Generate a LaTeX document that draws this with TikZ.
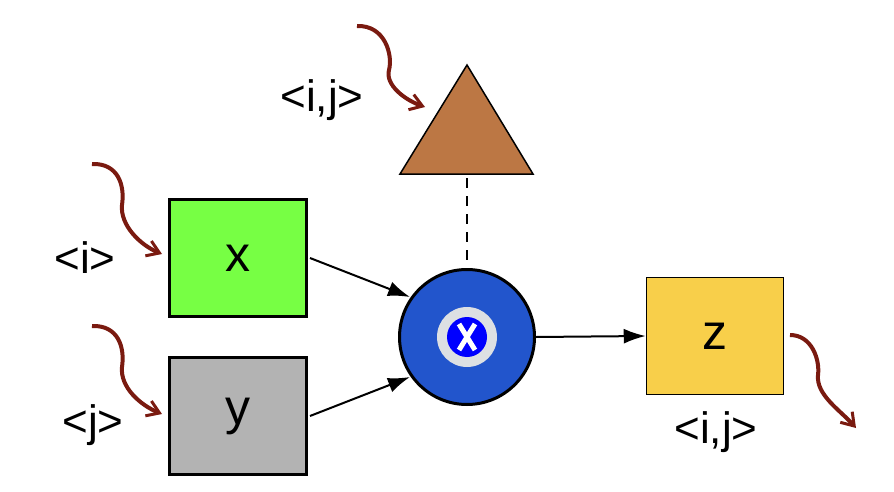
\documentclass[tikz,border=0pt]{standalone}
\usepackage{fontspec}
\setmainfont{Liberation Sans}
\usetikzlibrary{arrows.meta}
\definecolor{sq}{HTML}{7A1A10}
\definecolor{cx}{RGB}{119,255,68}
\definecolor{cy}{RGB}{179,179,179}
\definecolor{cz}{RGB}{248,207,74}
\definecolor{cm}{RGB}{34,85,204}
\definecolor{cg}{RGB}{221,224,227}
\definecolor{ct}{RGB}{188,119,68}
\begin{document}
\begin{tikzpicture}[x=1pt,y=-1pt,
  box/.style={draw=black,line width=3pt,minimum width=137pt,minimum height=117pt,inner sep=0pt,font=\fontsize{50}{50}\selectfont},
  lab/.style={font=\fontsize{44}{44}\selectfont,inner sep=0pt},
  squig/.style={draw=sq,line width=4pt,-{Straight Barb[length=12pt,width=16pt,line width=3pt]}},
  arr/.style={line width=2pt,-{Latex[length=22pt,width=15pt]}}]
\useasboundingbox (0,0) rectangle (894,492);
\node[box,fill=cx] (x) at (238,258) {x};
\node[box,fill=cy] (y) at (238,416) {y};
\node[box,line width=1.5pt,fill=cz] (z) at (715,336) {z};
\node[circle,draw,line width=3pt,fill=cm,minimum size=135pt,inner sep=0pt] (m) at (467,337) {};
\fill[cg] (m.center) circle (30);
\fill[blue] (m.center) circle (20);
\draw[white,line width=5pt] (459,324) -- (475,350) (475,324) -- (459,350);
\filldraw[fill=ct,draw=black,line width=1.5pt] (467,65) -- (533,174) -- (400,174) -- cycle;
\coordinate (tb) at (467,178);
\draw[line width=2pt,dash pattern=on 10pt off 8pt] (tb) -- (m.north);
\draw[arr] (x.east) ++(2,0) -- (410,297);
\draw[arr] (y.east) ++(2,0) -- (410,377);
\draw[arr] (m.east) -- (z.west);
\node[lab] (l1) at (322,100) {<i,j>};
\node[lab] (l2) at (85,258) {<i>};
\node[lab] (l3) at (93,425) {<j>};
\node[lab] (l4) at (716,432) {<i,j>};
\draw[squig] (357,26) .. controls (385,25) and (393,55) .. (389,70) .. controls (385,85) and (405,100) .. (425,107);
\draw[squig] (92,164) .. controls (118,163) and (125,185) .. (122,205) .. controls (120,225) and (140,245) .. (162,254);
\draw[squig] (92,326) .. controls (118,325) and (125,347) .. (122,367) .. controls (120,387) and (140,405) .. (162,414);
\draw[squig] (790,335) .. controls (812,335) and (820,360) .. (818,375) .. controls (816,395) and (840,410) .. (856,428);
\end{tikzpicture}
\end{document}
